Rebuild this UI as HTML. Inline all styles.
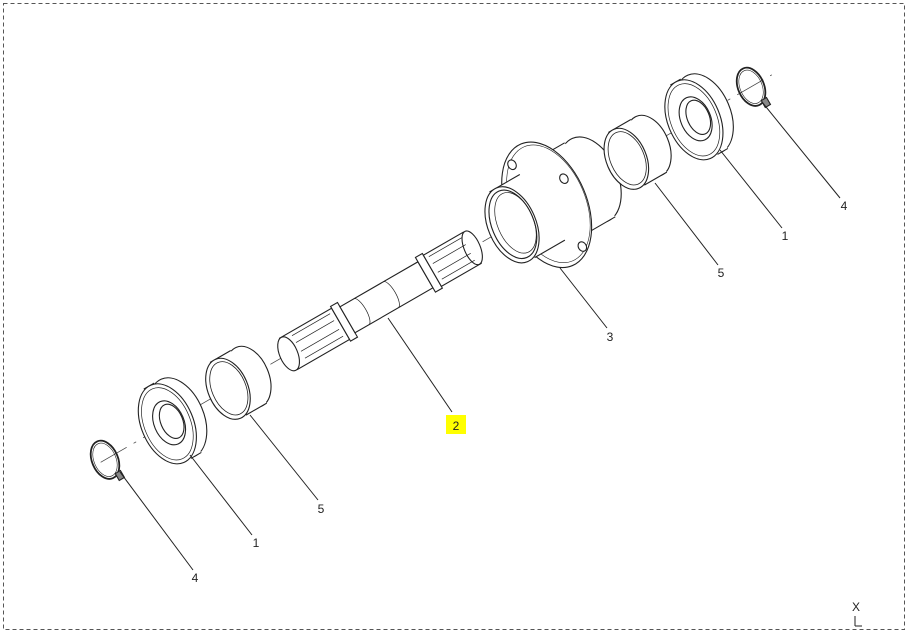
<!DOCTYPE html>
<html><head><meta charset="utf-8"><style>
html,body{margin:0;padding:0;background:#fff;}
svg{display:block;font-family:"Liberation Sans",sans-serif;}
</style></head><body>
<svg width="909" height="634" viewBox="0 0 909 634" xmlns="http://www.w3.org/2000/svg">
<rect x="0" y="0" width="909" height="634" fill="#fff"/>
<rect x="3.5" y="3.5" width="901" height="626" fill="none" stroke="#555" stroke-dasharray="4,3" stroke-width="1"/>
<g transform="translate(108,465) rotate(-30)" fill="#fff" stroke="#222" stroke-width="1.1">
  <line x1="-5" y1="-6" x2="770" y2="-6" stroke="#444" stroke-width="0.8" stroke-dasharray="30,8,3,8" fill="none"/>
  <!-- left snap ring -->
  <ellipse cx="0" cy="-6" rx="13" ry="20" fill="none" stroke-width="1.8" transform="rotate(7 0 -6)"/>
  <ellipse cx="0" cy="-6" rx="11" ry="17.5" fill="none" stroke-width="0.6" transform="rotate(7 0 -6)"/>
  <rect x="2" y="11" width="6" height="8" fill="#888"/>
  <!-- left seal -->
  <ellipse cx="84" cy="-6" rx="26" ry="42" transform="rotate(7 84 -6)"/>
  <polygon points="68.9,-47.8 80.9,-47.8 87.1,35.8 75.1,35.8" stroke="none"/>
  <line x1="68.9" y1="-47.8" x2="80.9" y2="-47.8"/>
  <line x1="75.1" y1="35.8" x2="87.1" y2="35.8"/>
  <ellipse cx="72" cy="-6" rx="26" ry="42" transform="rotate(7 72 -6)"/>
  <ellipse cx="72" cy="-6" rx="23" ry="38" fill="none" stroke-width="0.7" transform="rotate(7 72 -6)"/>
  <ellipse cx="74" cy="-6" rx="15" ry="23" transform="rotate(7 74 -6)"/>
  <ellipse cx="77" cy="-6" rx="11" ry="18" transform="rotate(7 77 -6)"/>
  <!-- left bearing cup -->
  <ellipse cx="166" cy="-6" rx="20" ry="32" transform="rotate(7 166 -6)"/>
  <polygon points="139.6,-37.8 163.6,-37.8 168.4,25.8 144.4,25.8" stroke="none"/>
  <line x1="139.6" y1="-37.8" x2="163.6" y2="-37.8"/>
  <line x1="144.4" y1="25.8" x2="168.4" y2="25.8"/>
  <ellipse cx="142" cy="-6" rx="20" ry="32" transform="rotate(7 142 -6)"/>
  <ellipse cx="143" cy="-6" rx="17" ry="28" fill="none" stroke-width="0.8" transform="rotate(7 143 -6)"/>
  <!-- shaft -->
  <path d="M212,-24 L272,-24 L272,12 L212,12 Z"/>
  <ellipse cx="212" cy="-6" rx="9" ry="18" transform="rotate(7 212 -6)"/>
  <line x1="224" y1="-20" x2="268" y2="-20" stroke-width="0.7"/>
  <line x1="224" y1="-12" x2="268" y2="-12" stroke-width="0.7"/>
  <line x1="224" y1="-2" x2="268" y2="-2" stroke-width="0.7"/>
  <line x1="224" y1="6" x2="268" y2="6" stroke-width="0.7"/>
  <path d="M272,-26 L280,-26 L280,14 L272,14 Z"/>
  <path d="M280,-21 L370,-21 L370,9 L280,9 Z"/>
  <path d="M296,-21 A5,15 0 0 1 296,9" fill="none" stroke-width="0.7"/>
  <path d="M330,-21 A5,15 0 0 1 330,9" fill="none" stroke-width="0.7"/>
  <path d="M370,-26 L378,-26 L378,14 L370,14 Z"/>
  <path d="M378,-24 L424,-24 L424,12 L378,12 Z"/>
  <ellipse cx="424" cy="-6" rx="8" ry="18" transform="rotate(7 424 -6)"/>
  <line x1="382" y1="-20" x2="420" y2="-20" stroke-width="0.7"/>
  <line x1="382" y1="-12" x2="420" y2="-12" stroke-width="0.7"/>
  <line x1="382" y1="-2" x2="420" y2="-2" stroke-width="0.7"/>
  <line x1="382" y1="6" x2="420" y2="6" stroke-width="0.7"/>
  <!-- housing -->
  <ellipse cx="560" cy="-6" rx="28" ry="45" transform="rotate(7 560 -6)"/>
  <polygon points="508.6,-50.7 556.6,-50.7 563.4,38.7 515.4,38.7" stroke="none"/>
  <line x1="508.6" y1="-50.7" x2="556.6" y2="-50.7"/>
  <line x1="515.4" y1="38.7" x2="563.4" y2="38.7"/>
  <ellipse cx="510" cy="-6" rx="40" ry="66" transform="rotate(7 510 -6)"/>
  <ellipse cx="512" cy="-6" rx="37" ry="62" fill="none" stroke-width="0.6" transform="rotate(7 512 -6)"/>
  <ellipse cx="500" cy="-58" rx="4" ry="5"/>
  <ellipse cx="520" cy="48" rx="4" ry="5"/>
  <ellipse cx="538" cy="-20" rx="4" ry="5"/>
  <polygon points="466.9,-45.7 501.9,-45.7 508.1,33.7 473.1,33.7" stroke="none"/>
  <line x1="466.9" y1="-45.7" x2="501.9" y2="-45.7"/>
  <line x1="473.1" y1="33.7" x2="508.1" y2="33.7"/>
  <ellipse cx="470" cy="-6" rx="24" ry="40" transform="rotate(7 470 -6)"/>
  <ellipse cx="471" cy="-6" rx="21" ry="36" fill="none" transform="rotate(7 471 -6)"/>
  <ellipse cx="474" cy="-6" rx="18" ry="32" fill="none" stroke-width="0.7" transform="rotate(7 474 -6)"/>
  <!-- right bearing cup -->
  <ellipse cx="628" cy="-6" rx="20" ry="32" transform="rotate(7 628 -6)"/>
  <polygon points="599.6,-37.8 625.6,-37.8 630.4,25.8 604.4,25.8" stroke="none"/>
  <line x1="599.6" y1="-37.8" x2="625.6" y2="-37.8"/>
  <line x1="604.4" y1="25.8" x2="630.4" y2="25.8"/>
  <ellipse cx="602" cy="-6" rx="20" ry="32" transform="rotate(7 602 -6)"/>
  <ellipse cx="603" cy="-6" rx="17" ry="28" fill="none" stroke-width="0.8" transform="rotate(7 603 -6)"/>
  <!-- right seal -->
  <ellipse cx="692" cy="-6" rx="26" ry="42" transform="rotate(7 692 -6)"/>
  <polygon points="676.9,-47.8 688.9,-47.8 695.1,35.8 683.1,35.8" stroke="none"/>
  <line x1="676.9" y1="-47.8" x2="688.9" y2="-47.8"/>
  <line x1="683.1" y1="35.8" x2="695.1" y2="35.8"/>
  <ellipse cx="680" cy="-6" rx="26" ry="42" transform="rotate(7 680 -6)"/>
  <ellipse cx="680" cy="-6" rx="23" ry="38" fill="none" stroke-width="0.7" transform="rotate(7 680 -6)"/>
  <ellipse cx="682" cy="-6" rx="15" ry="23" transform="rotate(7 682 -6)"/>
  <ellipse cx="685" cy="-6" rx="11" ry="18" transform="rotate(7 685 -6)"/>
  <!-- right snap ring -->
  <ellipse cx="746" cy="-6" rx="13" ry="20" fill="none" stroke-width="1.8" transform="rotate(7 746 -6)"/>
  <ellipse cx="746" cy="-6" rx="11" ry="17.5" fill="none" stroke-width="0.6" transform="rotate(7 746 -6)"/>
  <rect x="748" y="11" width="6" height="8" fill="#888"/>
</g>
<g stroke="#222" stroke-width="1">
  <line x1="120" y1="472" x2="193" y2="570"/>
  <line x1="190" y1="455" x2="252" y2="535"/>
  <line x1="250" y1="415" x2="318" y2="500"/>
  <line x1="388" y1="318" x2="452" y2="412"/>
  <line x1="560" y1="268" x2="607" y2="328"/>
  <line x1="655" y1="183" x2="718" y2="265"/>
  <line x1="720" y1="150" x2="782" y2="228"/>
  <line x1="762" y1="102" x2="840" y2="198"/>
  <line x1="855" y1="616" x2="855" y2="626"/>
  <line x1="855" y1="626" x2="862" y2="626"/>
</g>
<rect x="446" y="415" width="20" height="19" fill="#ffff00"/>
<g font-size="12" fill="#222" text-anchor="middle">
  <text x="195" y="582">4</text>
  <text x="256" y="547">1</text>
  <text x="321" y="513">5</text>
  <text x="456" y="430">2</text>
  <text x="610" y="341">3</text>
  <text x="721" y="277">5</text>
  <text x="785" y="240">1</text>
  <text x="844" y="210">4</text>
  <text x="856" y="611">X</text>
</g>
</svg>
</body></html>
